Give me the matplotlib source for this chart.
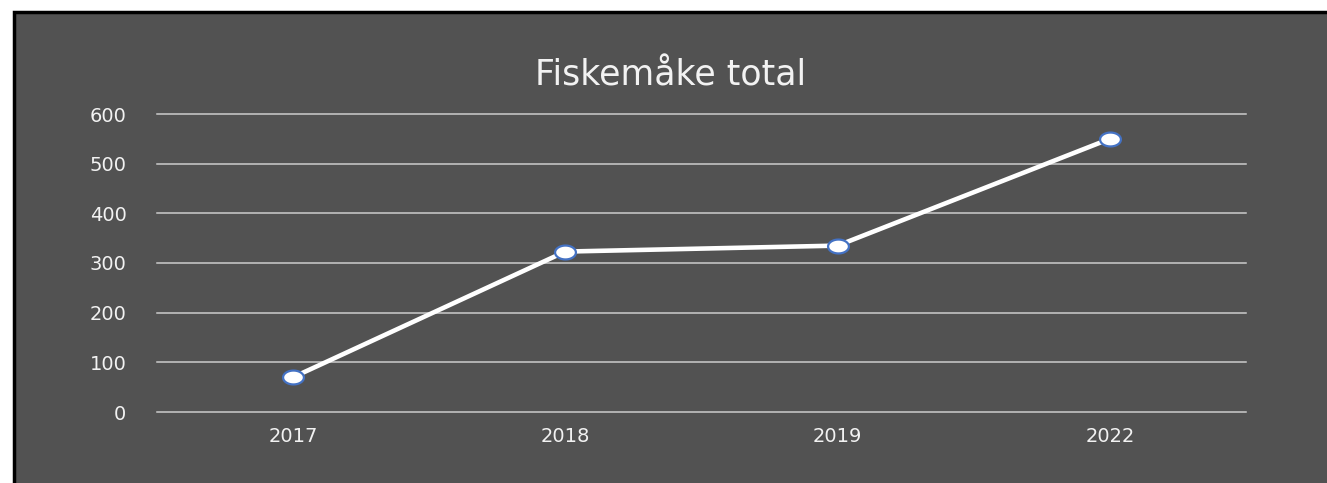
import numpy as np
import matplotlib.pyplot as plt
from matplotlib.patches import Rectangle
from matplotlib.path import Path

# data
years = ['2017', '2018', '2019', '2022']
totals = [70, 323, 335, 550]
yticks = [0, 100, 200, 300, 400, 500, 600]

bg = '#525252'
txt = '#f2f2f2'

fig = plt.figure(figsize=(13.27, 4.83), dpi=100)
fig.patch.set_facecolor('white')

# dark chart panel with black border on top/left
panel = Rectangle((13.5 / 1327, -0.05), 1.1, 1 - 11.5 / 483 + 0.05,
                  transform=fig.transFigure, facecolor=bg,
                  edgecolor='black', linewidth=2.5, zorder=-10)
fig.patches.append(panel)

ax = fig.add_axes([157 / 1327, 1 - 412 / 483, (1246 - 157) / 1327, (412 - 114) / 483])
ax.set_facecolor('none')
ax.set_zorder(5)

x = np.arange(len(years))
ax.set_xlim(-0.5, len(years) - 0.5)
ax.set_ylim(0, 600)

for v in yticks:
    ax.axhline(v, color='#cccccc', linewidth=1.1, zorder=1, clip_on=False)

# wide ellipse marker like the original
t = np.linspace(0, 2 * np.pi, 60)
ell = Path(np.column_stack([1.5 * np.cos(t), np.sin(t)]), closed=True)

ax.plot(x, totals, color='white', linewidth=3.3, zorder=3,
        marker=ell, markersize=15, markerfacecolor='white',
        markeredgecolor='#4472c4', markeredgewidth=1.6, clip_on=False)

for s in ax.spines.values():
    s.set_visible(False)

ax.set_xticks(x)
ax.set_xticklabels(years)
ax.set_yticks(yticks)
ax.tick_params(length=0, colors=txt, labelsize=14)
ax.tick_params(axis='y', pad=22)
ax.tick_params(axis='x', pad=11)

fig.text(671 / 1327, 1 - 75 / 483, 'Fiskemåke total',
         color=txt, fontsize=25, ha='center', va='center')

fig.savefig('out.png', dpi=100, facecolor=fig.get_facecolor())
